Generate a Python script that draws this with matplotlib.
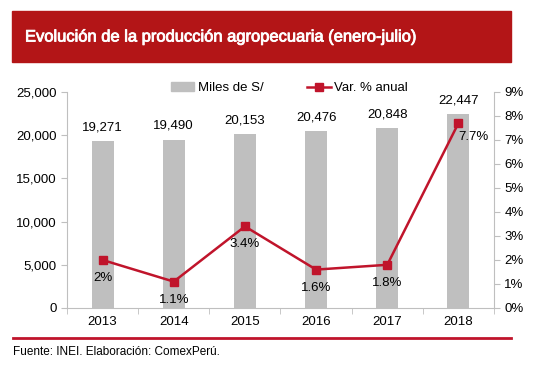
import matplotlib.pyplot as plt
import matplotlib.patheffects as pe
from matplotlib.patches import Rectangle
from matplotlib.lines import Line2D

plt.rcParams['font.family'] = ['Liberation Sans', 'DejaVu Sans']

years = ['2013', '2014', '2015', '2016', '2017', '2018']
miles = [19271, 19490, 20153, 20476, 20848, 22447]
var_pct = [2.0, 1.1, 3.4, 1.6, 1.8, 7.7]
var_labels = ['2%', '1.1%', '3.4%', '1.6%', '1.8%', '7.7%']

red = '#C0142B'
banner = '#B31517'
gray = '#BFBFBF'
spine = '#BFBFBF'

fig = plt.figure(figsize=(5.46, 3.69), dpi=100)

# title banner
fig.patches.append(Rectangle((12/546, 1-62/369), 499/546, 51/369,
                             transform=fig.transFigure, color=banner, zorder=0))
fig.text(25/546, 1-37/369, 'Evolución de la producción agropecuaria (enero-julio)',
         color='white', fontsize=11.9, va='center', ha='left',
         path_effects=[pe.withStroke(linewidth=0.6, foreground='white')])

ax = fig.add_axes([67/546, 1-308/369, 427/546, 216/369])
x = range(len(years))
bars = ax.bar(x, miles, width=0.31, color=gray, zorder=1)
ax.set_xlim(-0.5, 5.5)
ax.set_ylim(0, 25000)
ax.set_yticks(range(0, 25001, 5000))
ax.set_yticklabels(['{:,}'.format(v) for v in range(0, 25001, 5000)])
ax.set_xticks(list(x))
ax.set_xticklabels(years)
ax.set_xticks([i + 0.5 for i in range(-1, 6)], minor=True)
ax.tick_params(axis='x', which='major', length=0, pad=6, labelsize=9.5)
ax.tick_params(axis='x', which='minor', length=4, color=spine)
ax.tick_params(axis='y', length=4, color=spine, labelsize=9.5)
for s in ['top', 'right']:
    ax.spines[s].set_visible(False)
for s in ['left', 'bottom']:
    ax.spines[s].set_color(spine)

for i, v in enumerate(miles):
    ax.text(i, v + 900, '{:,}'.format(v), ha='center', va='bottom', fontsize=9.5)

ax2 = ax.twinx()
ax2.plot(list(x), var_pct, color=red, lw=1.8, marker='s', ms=5.5, zorder=3)
ax2.set_ylim(0, 9)
ax2.set_yticks(range(0, 10))
ax2.set_yticklabels(['{}%'.format(v) for v in range(0, 10)])
ax2.tick_params(axis='y', length=4, color=spine, labelsize=9.5)
for s in ['top', 'left', 'bottom']:
    ax2.spines[s].set_visible(False)
ax2.spines['right'].set_color(spine)

for i, (v, lab) in enumerate(zip(var_pct, var_labels)):
    if i == 5:
        ax2.annotate(lab, (i, v), xytext=(0, -10), textcoords='offset points',
                     ha='left', va='center', fontsize=9.5)
    else:
        ax2.annotate(lab, (i, v), xytext=(0, -13), textcoords='offset points',
                     ha='center', va='center', fontsize=9.5)

handles = [Rectangle((0, 0), 1, 1, color=gray),
           Line2D([], [], color=red, lw=1.8, marker='s', ms=5.5)]
fig.legend(handles, ['Miles de S/', 'Var. % anual'], loc='center left',
           bbox_to_anchor=(160/546, 1-88/369), ncol=2, frameon=False,
           fontsize=9.5, columnspacing=3.3, handlelength=1.8, handletextpad=0.25,
           borderpad=0.3)

fig.add_artist(Line2D([13/546, 511/546], [1-338/369, 1-338/369],
                      transform=fig.transFigure, color=red, lw=2))
fig.text(13/546, 1-352/369, 'Fuente: INEI. Elaboración: ComexPerú.',
         fontsize=8.5, va='center', ha='left')

fig.savefig('out.png', dpi=100)
